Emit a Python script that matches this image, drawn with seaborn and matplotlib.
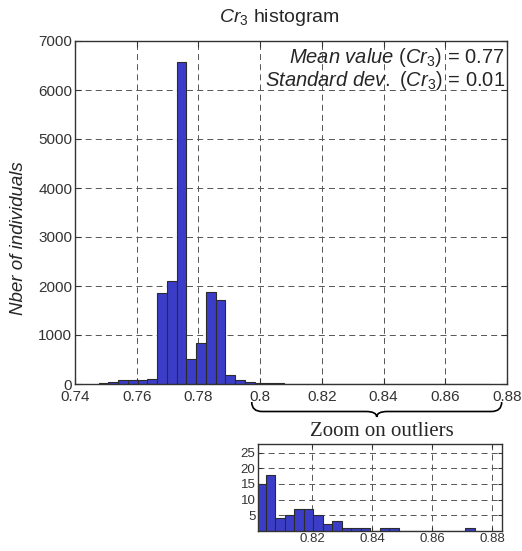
import matplotlib
matplotlib.use("Agg")
import matplotlib.pyplot as plt
import numpy as np
import pandas as pd
import seaborn as sns
from matplotlib.path import Path
from matplotlib.patches import PathPatch

# histogram bins (40 bins of equal width)
bin_start = 0.74769
bin_width = 0.00316
n_bins = 40

counts = [20, 40, 82, 82, 82, 102, 1851, 2108, 6565, 510,
          843, 1878, 1714, 184, 88, 48, 12, 15, 18, 4,
          5, 7, 7, 5, 2, 3, 1, 1, 1, 0,
          1, 1, 0, 0, 0, 0, 0, 0, 0, 1]

main_xticks = [0.74, 0.76, 0.78, 0.8, 0.82, 0.84, 0.86, 0.88]
main_yticks = [0, 1000, 2000, 3000, 4000, 5000, 6000, 7000]
zoom_xticks = [0.82, 0.84, 0.86, 0.88]
zoom_yticks = [5, 10, 15, 20, 25]

mean_val = 0.77
std_val = 0.01

edges = (bin_start + bin_width * np.arange(n_bins + 1)).tolist()
centers = [(a + b) / 2 for a, b in zip(edges[:-1], edges[1:])]
df = pd.DataFrame({"value": centers, "count": counts})

sns.set_style("white")
plt.rcParams['font.family'] = ['Liberation Sans', 'DejaVu Sans']
plt.rcParams['mathtext.fontset'] = 'custom'
plt.rcParams['mathtext.rm'] = 'Liberation Sans'
plt.rcParams['mathtext.it'] = 'Liberation Sans:italic'
plt.rcParams['lines.scale_dashes'] = False

bar_color = "#3b3dc9"
grid_kw = dict(color="#555555", linestyle=(0, (4.3, 3.0)), linewidth=0.7)
spine_color = "#333333"

fig = plt.figure(figsize=(5.22, 5.51), dpi=100)

# main histogram
ax = fig.add_axes([75 / 522, 1 - 384 / 551, 432 / 522, 343 / 551])
sns.histplot(data=df, x="value", weights="count", bins=edges, ax=ax,
             color=bar_color, edgecolor="#2b2b2b", linewidth=0.8, alpha=1)
ax.set_xlim(0.74, 0.88)
ax.set_ylim(0, 7000)
ax.set_xticks(main_xticks)
ax.set_xticklabels([f"{t:g}" for t in main_xticks])
ax.set_yticks(main_yticks)
ax.set_xlabel("")
ax.set_ylabel("Nber of individuals", fontsize=13.5, style="italic")
ax.yaxis.set_label_coords(-0.11, 0.426)
ax.grid(True, **grid_kw)
ax.set_axisbelow(True)
ax.tick_params(direction="in", length=4, bottom=True, left=True, top=True, right=True,
               labelsize=11, labelcolor="#333333", color=spine_color, pad=2)
ax.tick_params(axis="x", pad=4)
for s in ax.spines.values():
    s.set_color(spine_color)
    s.set_linewidth(1.0)

ax.text(0.995, 0.953, r"$\mathit{Mean\ value}$ ($\mathit{Cr}_{\mathit{3}}$) = " + f"{mean_val:.2f}",
        transform=ax.transAxes, ha="right", va="center", fontsize=14.5)
ax.text(0.995, 0.886, r"$\mathit{Standard\ dev.}$ ($\mathit{Cr}_{\mathit{3}}$) = " + f"{std_val:.2f}",
        transform=ax.transAxes, ha="right", va="center", fontsize=14.5)

fig.text(279 / 522, 1 - 17 / 551, r"$\mathit{Cr}_{\mathit{3}}$ histogram",
         ha="center", va="center", fontsize=14)

# brace under the outlier range
def fp(x, y):
    return (x / 522, 1 - y / 551)

verts = [fp(251.7, 402), fp(251.7, 411.5), fp(262, 411.5),
         fp(366, 411.5),
         fp(376.7, 411.5), fp(376.7, 417),
         fp(376.7, 411.5), fp(387.4, 411.5),
         fp(491.4, 411.5),
         fp(501.7, 411.5), fp(501.7, 402)]
codes = [Path.MOVETO, Path.CURVE3, Path.CURVE3,
         Path.LINETO,
         Path.CURVE3, Path.CURVE3,
         Path.CURVE3, Path.CURVE3,
         Path.LINETO,
         Path.CURVE3, Path.CURVE3]
fig.add_artist(PathPatch(Path(verts, codes), transform=fig.transFigure,
                         fill=False, edgecolor="black", linewidth=1.2))
fig.text(382 / 522, 1 - 432 / 551, "Zoom on outliers", ha="center", va="center",
         fontsize=15, family=["Liberation Serif", "DejaVu Serif"])

# zoom on outliers
axz = fig.add_axes([258.3 / 522, 1 - 530.7 / 551, 244 / 522, 86.7 / 551])
sns.histplot(data=df, x="value", weights="count", bins=edges, ax=axz,
             color=bar_color, edgecolor="#2b2b2b", linewidth=0.8, alpha=1)
axz.set_xlim(0.802, 0.8833)
axz.set_ylim(0, 27.8)
axz.set_xticks(zoom_xticks)
axz.set_xticklabels([f"{t:g}" for t in zoom_xticks])
axz.set_yticks(zoom_yticks)
axz.set_xlabel("")
axz.set_ylabel("")
axz.grid(True, **grid_kw)
axz.set_axisbelow(True)
axz.tick_params(direction="in", length=3, bottom=True, left=True, top=True, right=True,
                labelsize=9.5, labelcolor="#333333", color=spine_color, pad=2)
for s in axz.spines.values():
    s.set_color(spine_color)
    s.set_linewidth(1.0)

fig.savefig("out.png", dpi=100)
